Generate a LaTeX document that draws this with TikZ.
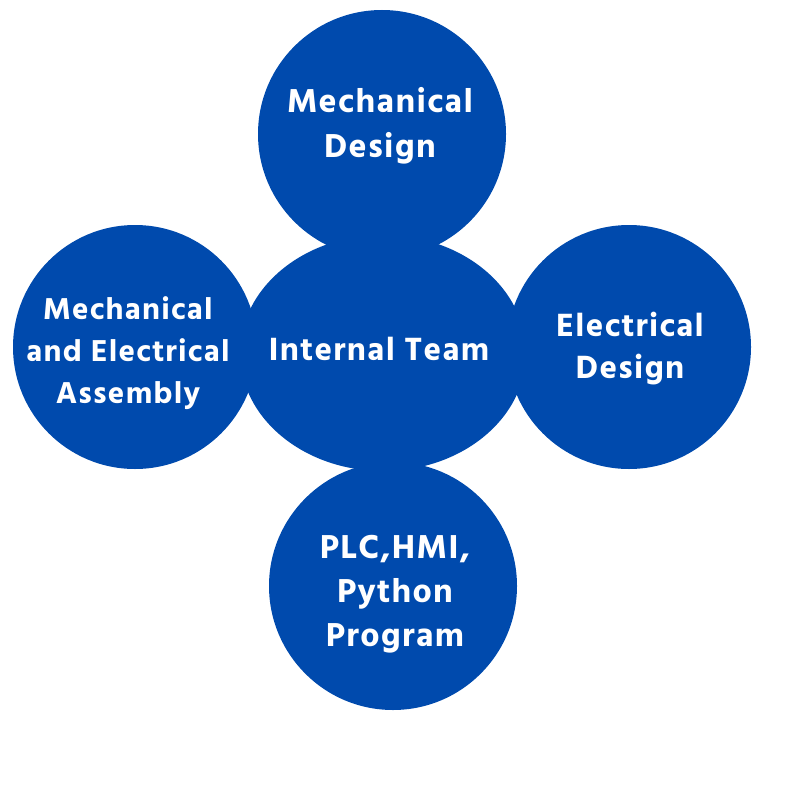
\documentclass[tikz,border=0pt]{standalone}
\usepackage{fontspec}
\setmainfont{Hind Madurai}[BoldFont={* Bold},LetterSpace=4]
\usetikzlibrary{shapes.geometric}
\definecolor{cblue}{HTML}{004AAD}
\begin{document}
\begin{tikzpicture}[x=1pt,y=-1pt,
  blob/.style={fill=cblue,draw=none,inner sep=0pt},
  lbl/.style={text=white,font=\bfseries\fontsize{34}{45}\selectfont,align=center,inner sep=0pt}]
\useasboundingbox (0,0) rectangle (800,800);
\node[blob,ellipse,minimum width=286pt,minimum height=236pt] (center) at (383,353) {};
\node[blob,circle,minimum size=248pt] (top) at (382,134) {};
\node[blob,circle,minimum size=244pt] (left) at (135,347) {};
\node[blob,circle,minimum size=244pt] (right) at (629,347) {};
\node[blob,circle,minimum size=248pt] (bottom) at (393,586) {};
\node[lbl] (tc) at (380,126) {Mechanical\\Design};
\node[lbl,font=\bfseries\fontsize{31}{42}\selectfont] (lc) at (128,353) {Mechanical\\and Electrical\\Assembly};
\node[lbl,font=\bfseries\fontsize{33}{42}\selectfont] (cc) at (379,349) {Internal Team};
\node[lbl,font=\bfseries\fontsize{33}{42}\selectfont] (rc) at (630,349) {Electrical\\Design};
\node[lbl,font=\bfseries\fontsize{34}{44}\selectfont] (bc) at (395,594) {PLC,HMI,\\Python\\Program};
\end{tikzpicture}
\end{document}
